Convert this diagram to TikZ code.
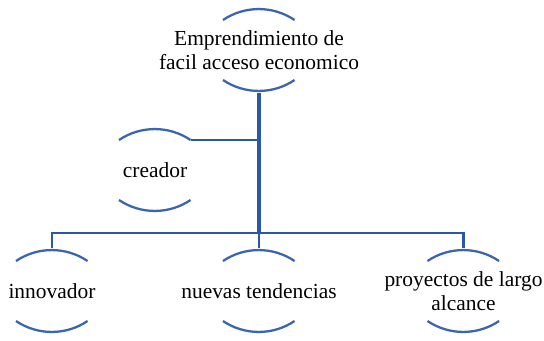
\documentclass[tikz,border=0pt]{standalone}
\usepackage{fontspec}
\setmainfont{Liberation Serif}
\definecolor{lineblue}{RGB}{42,88,168}
\definecolor{arcblue}{RGB}{58,102,176}

\begin{document}
\begin{tikzpicture}[every node/.style={font=\fontsize{12.2}{13.5}\selectfont,align=center,inner sep=0pt,minimum height=1.7cm},
		arcline/.style={draw=arcblue,line width=1.3pt},
		link/.style={draw=lineblue,line width=1.4pt}]
		\useasboundingbox (0,0) rectangle (10.88,-6.8);
		
		\node (top) at (5.18,-1.0) {Emprendimiento de\\ facil acceso economico};
		\node (creador) at (3.10,-3.40) {creador};
		\node (innov) at (1.04,-5.82) {innovador};
		\node (nuevas) at (5.18,-5.82) {nuevas tendencias};
		\node (proy) at (9.27,-5.82) {proyectos de largo\\ alcance};
		
		% open arcs above and below each label
		\foreach \n in {top,creador,innov,nuevas,proy}
			\draw[arcline] ([shift={(-0.72,0.6)}]\n.center) arc (124:56:1.28)
				([shift={(-0.72,-0.6)}]\n.center) arc (236:304:1.28);
		
		\coordinate (mid) at (5.18,-4.66);
		\coordinate (creaend) at ([shift={(0.72,0.6)}]creador.center);
		
		\draw[link,line width=1.9pt] (top.south) -- (mid);
		\draw[link] (creaend) -- (creaend -| mid);
		\draw[link] (innov.north) |- (mid) -| (proy.north);
		\draw[link] (mid) -- (nuevas.north);
	\end{tikzpicture}
\end{document}
